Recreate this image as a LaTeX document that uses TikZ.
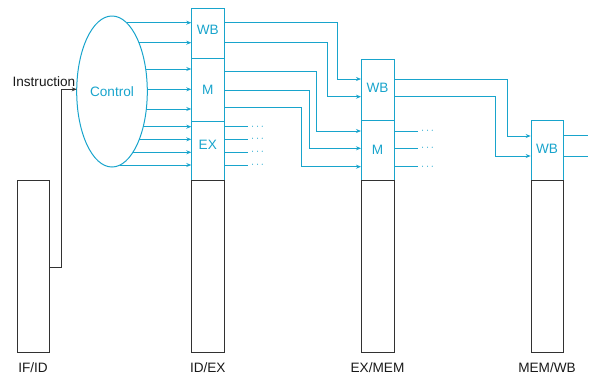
\documentclass[tikz,border=0pt]{standalone}
\usepackage{fontspec}
\setmainfont{Liberation Sans}
\usetikzlibrary{shapes.geometric,arrows.meta}
\definecolor{cy}{RGB}{24,164,204}
\definecolor{dk}{RGB}{50,50,50}
\definecolor{tx}{RGB}{25,25,25}
\begin{document}
\begin{tikzpicture}[x=1pt,y=-1pt,
  every node/.style={font=\fontsize{13.6}{16}\selectfont},
  cbox/.style={draw=cy,line width=1pt,inner sep=0,anchor=north west},
  kbox/.style={draw=dk,line width=0.9pt,inner sep=0,anchor=north west},
  ctext/.style={text=cy,inner sep=0},
  lbl/.style={text=tx,inner sep=0},
  sig/.style={draw=cy,line width=1pt},
  sarr/.style={sig,-{Stealth[length=5pt,width=4pt]}},
  dotsn/.style={text=cy,inner sep=0,anchor=west,font=\fontsize{10.5}{10}\selectfont}]
\useasboundingbox (0,0) rectangle (590,381);

% Control ellipse
\node[draw=cy,line width=1pt,ellipse,minimum width=70.6pt,minimum height=151pt,inner sep=0,text=cy] (ctrl) at (112,91.5) {Control};

% ID/EX
\node[cbox,minimum width=33pt,minimum height=50pt] (idwb) at (191.3,8.3) {};
\node[cbox,minimum width=33pt,minimum height=62.4pt] (idm) at (191.3,58.3) {};
\node[cbox,minimum width=33pt,minimum height=59.3pt] (idex) at (191.3,120.7) {};
\node[kbox,minimum width=33pt,minimum height=172pt] (idlow) at (191.3,180) {};
\node[ctext] (tidwb) at (207.8,30) {WB};
\node[ctext] (tidm) at (207.8,90) {M};
\node[ctext] (tidex) at (207.8,145.3) {EX};

% EX/MEM
\node[cbox,minimum width=33pt,minimum height=61pt] (exwb) at (361,59.3) {};
\node[cbox,minimum width=33pt,minimum height=59.7pt] (exm) at (361,120.3) {};
\node[kbox,minimum width=33pt,minimum height=172pt] (exlow) at (361,180) {};
\node[ctext] (texwb) at (377.5,87.5) {WB};
\node[ctext] (texm) at (377.5,149.5) {M};

% MEM/WB
\node[cbox,minimum width=32.6pt,minimum height=60pt] (mwwb) at (530.7,120) {};
\node[kbox,minimum width=32.6pt,minimum height=172pt] (mwlow) at (530.7,180) {};
\node[ctext] (tmwwb) at (547,148.7) {WB};

% IF/ID
\node[kbox,minimum width=32.6pt,minimum height=172pt] (ifid) at (16.7,180) {};

% labels
\node[lbl] (lifid) at (33,367.7) {IF/ID};
\node[lbl] (lidex) at (207.8,367.7) {ID/EX};
\node[lbl] (lexmem) at (377.5,367.7) {EX/MEM};
\node[lbl] (lmemwb) at (547,367.7) {MEM/WB};
\node[lbl,anchor=base east] (linstr) at (75.5,86.2) {Instruction};

% instruction path
\coordinate (ia) at (76.7,89.3);
\draw[dk,line width=0.8pt,-{Stealth[length=5pt,width=4pt]}] (ifid.east |- 0,267) -| (61.7,89.3) -- (ia);

% control outputs
\foreach \y in {22.7,42.7,69,89.3,109,126.7,139.3,152.3,165}{
  \pgfmathsetmacro\xs{112+35.3*sqrt(1-((\y-91.5)/75.5)^2)}
  \draw[sarr] (\xs,\y) -- (idwb.west |- 0,\y);
}

% ID/EX -> EX/MEM
\draw[sarr] (idwb.east |- 0,22.7) -| (337.3,79) -- (exwb.west |- 0,79);
\draw[sarr] (idwb.east |- 0,42.7) -| (327.3,96.7) -- (exwb.west |- 0,96.7);
\draw[sarr] (idm.east |- 0,71.3) -| (316.7,131) -- (exm.west |- 0,131);
\draw[sarr] (idm.east |- 0,90) -| (309.3,148.3) -- (exm.west |- 0,148.3);
\draw[sarr] (idm.east |- 0,107.3) -| (301.7,166.7) -- (exm.west |- 0,166.7);

% EX outputs
\foreach \y in {126.7,139.3,152.3,165}{
  \draw[sig] (idex.east |- 0,\y) -- (247.7,\y);
  \node[dotsn] at (251,\y) {$\cdots$};
}

% EX/MEM -> MEM/WB
\draw[sarr] (exwb.east |- 0,79) -| (507.3,136) -- (mwwb.west |- 0,136);
\draw[sarr] (exwb.east |- 0,96.7) -| (495,156) -- (mwwb.west |- 0,156);

% M outputs
\foreach \y in {131,148.3,166.7}{
  \draw[sig] (exm.east |- 0,\y) -- (417.7,\y);
  \node[dotsn] at (421,\y) {$\cdots$};
}

% MEM/WB outputs
\coordinate (o1) at (588,135.3);
\coordinate (o2) at (588,156);
\draw[sig] (mwwb.east |- o1) -- (o1);
\draw[sig] (mwwb.east |- o2) -- (o2);
\end{tikzpicture}
\end{document}
